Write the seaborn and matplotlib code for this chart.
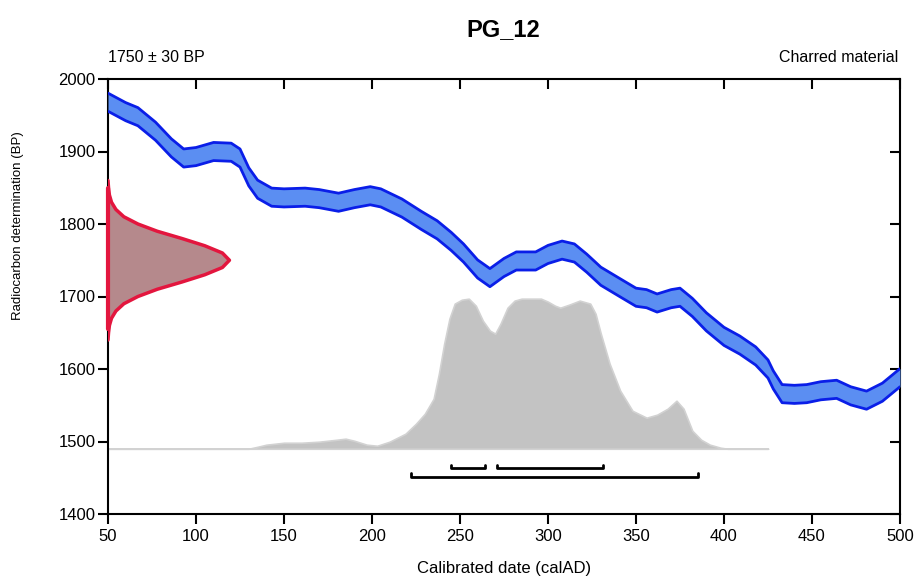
import matplotlib
matplotlib.use("Agg")
import matplotlib.pyplot as plt
import seaborn as sns
import pandas as pd
import numpy as np

# calibration curve (IntCal band), centre values
cal_date = [50, 60, 67, 77, 86, 93, 100, 110, 120, 125, 130, 135, 143, 150, 162, 170, 181,
            190, 199, 205, 217, 228, 237, 245, 252, 260, 267, 275, 282, 293, 300, 308, 315,
            322, 330, 341, 350, 356, 362, 370, 375, 382, 390, 400, 409, 418, 425, 428, 433,
            440, 447, 455, 464, 472, 481, 490, 500]
cal_bp = [1968, 1955, 1948, 1928, 1905, 1891, 1893, 1900, 1899, 1891, 1865, 1848, 1837, 1836,
          1837, 1835, 1830, 1835, 1839, 1836, 1822, 1805, 1792, 1776, 1760, 1738, 1726, 1740,
          1749, 1749, 1758, 1764, 1760, 1746, 1728, 1712, 1699, 1697, 1691, 1697, 1699, 1685,
          1665, 1645, 1633, 1618, 1600, 1585, 1566, 1565, 1566, 1570, 1572, 1563, 1557, 1568,
          1588]
cal_err = 12.5

# calibrated probability distribution (relative)
post_date = [50, 130, 135, 140, 150, 160, 170, 180, 185, 190, 197, 203, 210, 219, 225, 230,
             235, 238, 241, 244, 247, 251, 255, 259, 263, 267, 270, 273, 277, 281, 285, 290,
             296, 300, 304, 307, 312, 318, 324, 327, 330, 335, 341, 348, 356, 362, 368, 373,
             377, 382, 387, 392, 398, 402, 425]
post_prob = [0, 0, 0.013, 0.027, 0.04, 0.04, 0.047, 0.06, 0.067, 0.053, 0.027, 0.02, 0.047,
             0.1, 0.167, 0.233, 0.333, 0.5, 0.7, 0.867, 0.967, 0.993, 1.0, 0.953, 0.853, 0.787,
             0.767, 0.833, 0.94, 0.987, 1.0, 1.0, 1.0, 0.98, 0.953, 0.94, 0.96, 0.987, 0.967,
             0.9, 0.767, 0.567, 0.387, 0.253, 0.207, 0.227, 0.267, 0.32, 0.267, 0.12, 0.06,
             0.027, 0.007, 0, 0]

# radiocarbon measurement 1750 +/- 30 BP (drawn on the y axis)
meas_bp = [1640, 1650, 1660, 1670, 1680, 1690, 1700, 1710, 1720, 1730, 1740, 1750,
           1760, 1770, 1780, 1790, 1800, 1810, 1820, 1830, 1840, 1850, 1860]
meas_width = [0, 0.3, 0.8, 2, 4.5, 9, 17, 28, 42, 55, 65, 69,
              65, 55, 42, 28, 17, 9, 4.5, 2, 0.8, 0.3, 0]

# calibrated ranges
range_68 = [(245, 264), (271, 331)]
range_95 = [(222, 385)]

x_ticks = list(range(50, 501, 50))
y_ticks = list(range(1400, 2001, 100))

sns.set_theme(style="ticks")
plt.rcParams['font.family'] = ['Liberation Sans', 'DejaVu Sans']
plt.rcParams['axes.edgecolor'] = 'black'
plt.rcParams['xtick.color'] = 'black'
plt.rcParams['ytick.color'] = 'black'
plt.rcParams['text.color'] = 'black'

fig = plt.figure(figsize=(9.15, 5.77), dpi=100)
ax = fig.add_axes([108 / 915, 63 / 577, 792 / 915, 435 / 577])

# posterior distribution
base, height = 1490, 207
post_y = base + np.array(post_prob) * height
ax.fill_between(post_date, base, post_y, color='#c3c3c3', edgecolor='#d2d2d2', lw=1.2, zorder=1)

# measurement distribution
meas_x = 50 + np.array(meas_width)
ax.fill_betweenx(meas_bp, 50, meas_x, color='#b5898c', lw=0, zorder=2)
ax.plot(meas_x, meas_bp, color='#e3163e', lw=2.5, zorder=3)
ax.plot([50, 50], [meas_bp[0] + 15, meas_bp[-1] - 10], color='#e3163e', lw=3,
        zorder=6, clip_on=False)

# calibration curve band
df = pd.DataFrame({"date": cal_date, "bp": cal_bp})
df["upper"] = df["bp"] + cal_err
df["lower"] = df["bp"] - cal_err
ax.fill_between(df["date"], df["lower"], df["upper"], color='#5b8ef2', lw=0, zorder=4)
sns.lineplot(data=df, x="date", y="upper", color='#0a1ee8', lw=2, ax=ax, zorder=5)
sns.lineplot(data=df, x="date", y="lower", color='#0a1ee8', lw=2, ax=ax, zorder=5)

# range brackets
for a, b in range_68:
    ax.plot([a, a, b, b], [1468, 1463, 1463, 1468], color='black', lw=2, zorder=5)
for a, b in range_95:
    ax.plot([a, a, b, b], [1456, 1451, 1451, 1456], color='black', lw=2, zorder=5)

ax.set_xlim(50, 500)
ax.set_ylim(1400, 2000)
ax.set_xticks(x_ticks)
ax.set_yticks(y_ticks)
ax.set_xlabel("")
ax.set_ylabel("")
ax.tick_params(direction='out', length=7.5, width=1.5, labelsize=12, pad=3)
ax.tick_params(axis='y', pad=1.5)
for sp in ax.spines.values():
    sp.set_visible(True)
    sp.set_linewidth(1.5)
    sp.set_color('black')

top = ax.secondary_xaxis('top')
top.set_xticks(x_ticks)
top.tick_params(direction='in', length=7.5, width=1.5, labeltop=False, labelbottom=False)
right = ax.secondary_yaxis('right')
right.set_yticks(y_ticks)
right.tick_params(direction='in', length=7.5, width=1.5, labelright=False, labelleft=False)

fig.text(503 / 915, 1 - 30 / 577, "PG_12", ha='center', va='center',
         fontsize=17, fontweight='bold')
fig.text(108 / 915, 1 - 57.5 / 577, "1750 \u00b1 30 BP", ha='left', va='center', fontsize=11.5)
fig.text(898 / 915, 1 - 57.5 / 577, "Charred material", ha='right', va='center', fontsize=11.5)
fig.text(504 / 915, 1 - 568 / 577, "Calibrated date (calAD)", ha='center', va='center',
         fontsize=12)
fig.text(18 / 915, 1 - 226 / 577, "Radiocarbon determination (BP)", ha='center',
         va='center', rotation=90, fontsize=9.5)

fig.savefig("out.png", dpi=100)
